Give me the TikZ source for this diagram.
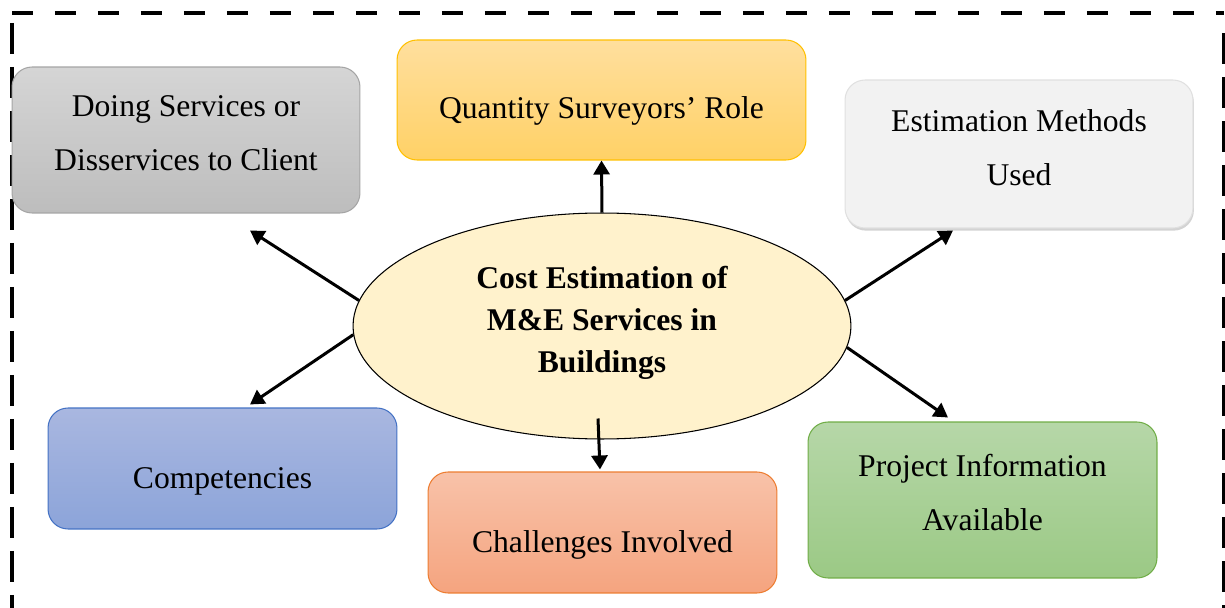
\documentclass[tikz,border=0pt]{standalone}
\usepackage{fontspec}
\setmainfont{Liberation Serif}
\usetikzlibrary{arrows.meta,positioning,shapes.geometric,shadows,calc}

\definecolor{grayTop}{HTML}{D5D5D5}
\definecolor{grayBot}{HTML}{BDBDBD}
\definecolor{grayLine}{HTML}{A5A5A5}
\definecolor{yelTop}{HTML}{FFDF9E}
\definecolor{yelBot}{HTML}{FFD166}
\definecolor{yelLine}{HTML}{FFC000}
\definecolor{whiteFill}{HTML}{F2F2F2}
\definecolor{bluTop}{HTML}{A9B7E0}
\definecolor{bluBot}{HTML}{8CA4D9}
\definecolor{bluLine}{HTML}{4472C4}
\definecolor{orgTop}{HTML}{F8C2A9}
\definecolor{orgBot}{HTML}{F5A47F}
\definecolor{orgLine}{HTML}{ED7D31}
\definecolor{grnTop}{HTML}{B6D7A8}
\definecolor{grnBot}{HTML}{9BC985}
\definecolor{grnLine}{HTML}{70AD47}
\definecolor{coreFill}{HTML}{FFF2CC}

\tikzset{
  topic/.style={rectangle, rounded corners=0.4cm, minimum width=6.98cm,
    minimum height=2.42cm, align=center, inner sep=0pt, line width=0.6pt,
    text depth=0cm, font=\fontsize{18}{31}\selectfont},
  arr/.style={-{Triangle[length=0.28cm,width=0.32cm]}, line width=0.06cm},
  frame/.style={line width=0.08cm},
}

\begin{document}
\begin{tikzpicture}[x=0.02cm,y=-0.02cm]
    \useasboundingbox (0,0) rectangle (1225,608);

    % dashed frame
    \draw[frame, dash pattern=on 0.42cm off 0.44cm] (12,13) -- (1224,13);
    \draw[frame, dash pattern=on 0.62cm off 0.26cm] (12,23) -- (12,620);
    \draw[frame, dash pattern=on 0.62cm off 0.26cm] (1224,33) -- (1224,620);

    \node[ellipse, draw=black, line width=0.6pt, fill=coreFill, inner sep=0pt,
      minimum width=9.96cm, minimum height=4.52cm, align=center,
      text height=1.86cm, text depth=0cm,
      font=\fontsize{18}{24}\selectfont\bfseries] (core) at (602,326)
      {Cost Estimation of\\M\&E Services in\\Buildings};

    \node[topic, top color=grayTop, bottom color=grayBot, draw=grayLine,
      minimum width=6.96cm, minimum height=2.92cm, text height=1.22cm] (dsc) at (186,140)
      {Doing Services or\\Disservices to Client};
    \node[topic, top color=yelTop, bottom color=yelBot, draw=yelLine,
      minimum width=8.18cm, minimum height=2.4cm, text height=0.74cm] (qs) at (601.5,100)
      {Quantity Surveyors’ Role};
    \node[topic, fill=whiteFill, draw=white!88!black,
      drop shadow={opacity=0.35, shadow xshift=0.5pt, shadow yshift=-1.5pt},
      minimum width=6.96cm, minimum height=2.96cm, text height=1.26cm] (est) at (1019,154)
      {Estimation Methods\\Used};
    \node[topic, top color=bluTop, bottom color=bluBot, draw=bluLine,
      text height=0.8cm] (comp) at (222.5,468.5)
      {Competencies};
    \node[topic, top color=orgTop, bottom color=orgBot, draw=orgLine,
      text height=0.8cm] (chal) at (602.5,532.5)
      {Challenges Involved};
    \node[topic, top color=grnTop, bottom color=grnBot, draw=grnLine,
      minimum height=3.12cm, text height=1.22cm] (proj) at (982.5,500)
      {Project Information\\Available};

    % arrows out of the centre
    \draw[arr] (core.north) -- (qs.south);
    \draw[arr] (core.174) -- ($(dsc.south)+(64,17)$);
    \draw[arr] (core.6) -- ($(est.south)+(-66,2)$);
    \draw[arr] (core.182) -- ($(comp.north)+(27.5,-3)$);
    \draw[arr] ($(core.south)+(-4,-21)$) -- ($(chal.north)+(-2.5,-2)$);
    \draw[arr] (core.-5) -- ($(proj.north)+(-34.5,-4)$);

  \end{tikzpicture}
\end{document}
